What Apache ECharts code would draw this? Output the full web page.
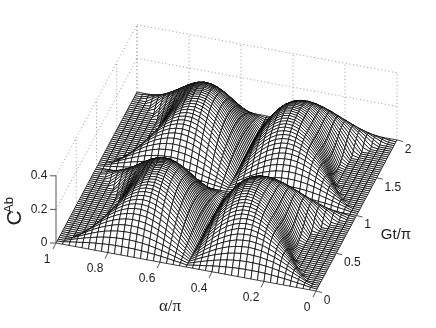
<!DOCTYPE html>
<html><head><meta charset="utf-8">
<style>html,body{margin:0;padding:0;background:#fff}#c{width:436px;height:328px}</style>
<script src="https://cdn.jsdelivr.net/npm/echarts@6/dist/echarts.min.js"></script>
</head><body><div id="c"></div>
<script>
// Surface heights, in table units (HEIGHT_UNITS units = 1 on the C^Ab axis). Rows: Gt/pi = 0 .. 0.5, step 0.025. Columns: distance from the alpha edge = 0 .. 0.5 (alpha/pi), step 0.025.
const HEIGHT_UNITS = 1075;
const heights = [
[0,0,0,0,0,0,0,0,0,0,0,0,0,0,0,0,0,0,0,0,0],
[0,3,10,16,22,28,32,36,39,41,41,41,40,37,34,30,25,19,13,7,0],
[0,0,13,26,38,49,59,67,73,77,79,79,77,73,67,59,49,38,26,13,0],
[0,0,11,30,48,65,80,93,102,109,113,114,112,106,98,86,73,57,39,20,0],
[0,0,1,28,53,75,96,113,127,138,144,146,143,137,127,113,95,74,51,26,0],
[0,0,0,19,51,80,106,129,147,161,170,174,172,166,154,137,116,91,63,32,0],
[0,0,0,6,44,80,112,140,163,181,193,199,198,192,179,160,136,107,74,38,0],
[0,0,0,0,33,75,113,147,175,197,212,221,222,215,201,181,155,122,85,44,0],
[0,0,0,0,18,66,111,150,183,209,228,239,242,236,222,201,172,136,95,49,0],
[0,0,0,0,0,55,105,150,188,219,241,255,260,255,241,219,188,150,105,54,0],
[0,0,0,0,0,40,96,147,190,225,251,268,275,272,258,235,202,161,114,59,0],
[0,0,0,0,0,24,86,141,189,229,259,279,288,286,273,249,215,173,121,63,0],
[0,0,0,0,0,8,74,135,188,231,265,288,299,298,286,262,227,182,129,67,0],
[0,0,0,0,0,0,62,127,184,232,269,295,308,309,297,273,238,191,135,71,0],
[0,0,0,0,0,0,50,119,180,232,272,300,315,318,306,282,246,198,141,74,0],
[0,0,0,0,0,0,39,111,176,231,273,304,321,325,314,291,254,205,145,76,0],
[0,0,0,0,0,0,28,105,172,229,274,307,325,330,321,297,260,210,150,78,0],
[0,0,0,0,0,0,20,98,169,228,275,309,329,335,326,302,265,215,152,80,0],
[0,0,0,0,0,0,14,94,166,226,275,310,331,337,329,305,268,217,155,81,0],
[0,0,0,0,0,0,9,91,163,226,275,311,333,339,331,307,270,219,156,82,0],
[0,0,0,0,0,0,8,90,163,226,275,311,333,340,332,308,271,220,156,83,0]
];
const alphaTicks = ['1','0.8','0.6','0.4','0.2','0'];
const alphaTickValues = [1,0.8,0.6,0.4,0.2,0];
const gtTicks = ['0','0.5','1','1.5','2'];
const gtTickValues = [0,0.5,1,1.5,2];
const cTicks = ['0','0.2','0.4'];
const cTickValues = [0,0.2,0.4];

const ALPHA_CELLS = 40, GT_CELLS = 80;
const O = [316,291], VA = [-260,-48], VG = [40.5,-75.5], VZ = -168;
const P = (a,g,z) => [O[0]+VA[0]*a+VG[0]*g, O[1]+VA[1]*a+VG[1]*g+VZ*z];

function zAt(k,m){
  const j = k<=20 ? k : 40-k;
  let i = m%40; if(i>20) i = 40-i;
  return heights[i][j]/HEIGHT_UNITS;
}
const cells = [];
for(let m=GT_CELLS-1;m>=0;m--) for(let k=ALPHA_CELLS-1;k>=0;k--) cells.push([m,k]);

const ink='#000', grid='#9a9a9a', axisC='#555', txt='#222';
const sans='"Liberation Sans",Arial,sans-serif', serif='"Liberation Serif",serif';

function line(api,a,b,col,lw,dash){
  const p=api.coord(a), q=api.coord(b);
  return {type:'line',shape:{x1:p[0],y1:p[1],x2:q[0],y2:q[1]},style:{stroke:col,lineWidth:lw,lineDash:dash||null,fill:null}};
}
function label(api,pt,t,size,font,rot){
  const p=api.coord(pt);
  return {type:'text',x:p[0],y:p[1],rotation:rot||0,style:{text:t,font:size+'px '+(font||sans),fill:txt,align:'center',verticalAlign:'middle'}};
}
const zMax=cTickValues[2];
function guides(params,api){
  const ch=[], dash=[1,2.6];
  cTickValues.slice(1).forEach(z=>{
    ch.push(line(api,P(1,2,z),P(0,2,z),grid,1,dash));
    ch.push(line(api,P(1,0,z),P(1,2,z),grid,1,dash));
  });
  alphaTickValues.forEach(a=>ch.push(line(api,P(a,2,0),P(a,2,zMax),grid,1,dash)));
  gtTickValues.slice(1).forEach(g=>ch.push(line(api,P(1,g,0),P(1,g,zMax),grid,1,dash)));
  return {type:'group',children:ch};
}
function cell(params,api){
  const m=api.value(0), k=api.value(1);
  const v=(kk,mm)=>api.coord(P(kk/ALPHA_CELLS,mm/40,zAt(kk,mm)));
  return {type:'polygon',shape:{points:[v(k,m),v(k+1,m),v(k+1,m+1),v(k,m+1)]},
    style:{fill:'#fff',stroke:ink,lineWidth:0.75}};
}
function axes(params,api){
  const ch=[];
  ch.push(line(api,P(1,0,0),P(1,0,zMax),axisC,1));
  cTickValues.forEach((z,i)=>{
    const p=P(1,0,z);
    ch.push(line(api,p,[p[0]-6,p[1]],axisC,1));
    ch.push(label(api,[p[0]-(cTicks[i].length>1?17:12),p[1]],cTicks[i],12));
  });
  alphaTickValues.forEach((a,i)=>{
    const p=P(a,0,0);
    ch.push(line(api,p,[p[0]-3,p[1]+6],axisC,1));
    ch.push(label(api,[p[0]-(alphaTicks[i].length>1?13:9),p[1]+16.5],alphaTicks[i],12));
  });
  gtTickValues.forEach((g,i)=>{
    const p=P(0,g,0);
    ch.push(line(api,p,[p[0]+6,p[1]+1.5],axisC,1));
    ch.push(label(api,[p[0]+(gtTicks[i].length>1?16:11),p[1]+9.5],gtTicks[i],12));
  });
  ch.push(label(api,[170,307],'α/π',17,serif));
  ch.push(label(api,[396,235],'Gt/π',15));
  ch.push(label(api,[15,218],'C',21,sans,Math.PI/2));
  ch.push(label(api,[9,205],'Ab',13,sans,Math.PI/2));
  return {type:'group',children:ch};
}
const chart=echarts.init(document.getElementById('c'),null,{renderer:'canvas'});
const base={type:'custom',coordinateSystem:'cartesian2d',clip:false,silent:true,animation:false,progressive:0};
chart.setOption({
  animation:false,
  backgroundColor:'#fff',
  grid:{left:0,right:0,top:0,bottom:0},
  xAxis:{type:'value',min:0,max:436,show:false},
  yAxis:{type:'value',min:0,max:328,inverse:true,show:false},
  series:[
    Object.assign({},base,{data:[[0,0]],renderItem:guides}),
    Object.assign({},base,{data:cells,renderItem:cell}),
    Object.assign({},base,{data:[[0,0]],renderItem:axes})
  ]
});
</script></body></html>
